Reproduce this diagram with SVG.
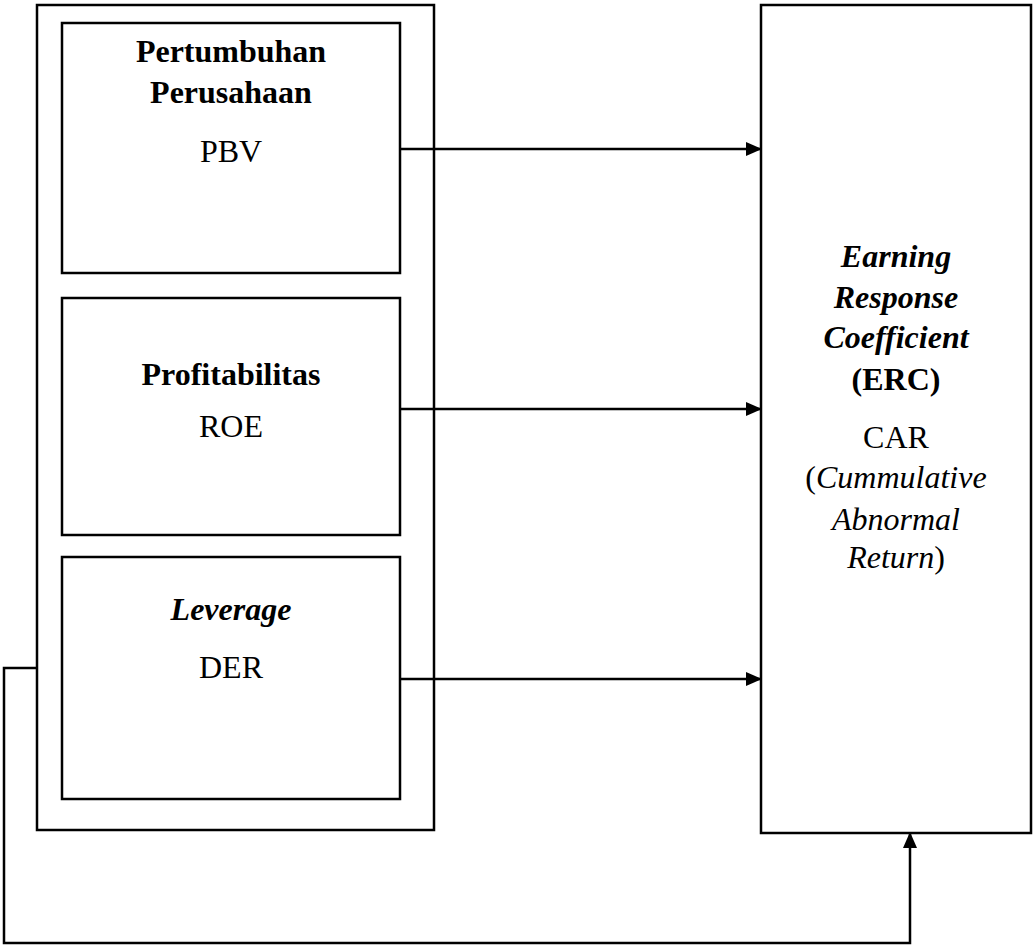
<svg xmlns="http://www.w3.org/2000/svg" width="1036" height="949" viewBox="0 0 1036 949">
<style>
.box{fill:none;stroke:#000;stroke-width:2.5}
.conn{fill:none;stroke:#000;stroke-width:2.5}
text{font-family:"Liberation Serif","Times New Roman",serif;font-size:32px;fill:#000;text-anchor:middle}
.b{font-weight:bold}
.i{font-style:italic}
</style>
<defs>
<marker id="ah" markerWidth="16" markerHeight="16" refX="15" refY="8" orient="auto" markerUnits="userSpaceOnUse">
<path d="M0,1 L16,8 L0,15 Z" fill="#000"/>
</marker>
</defs>
<rect width="1036" height="949" fill="#fff"/>
<g id="container">
<rect class="box" x="37" y="5" width="397" height="825"/>
</g>
<g id="node-pertumbuhan">
<rect class="box" x="62" y="23" width="338" height="250"/>
<text class="b" x="231" y="62">Pertumbuhan</text>
<text class="b" x="231" y="103">Perusahaan</text>
<text x="231" y="162">PBV</text>
</g>
<g id="node-profitabilitas">
<rect class="box" x="62" y="298" width="338" height="237"/>
<text class="b" x="231" y="385">Profitabilitas</text>
<text x="231" y="437">ROE</text>
</g>
<g id="node-leverage">
<rect class="box" x="62" y="557" width="338" height="242"/>
<text class="b i" x="231" y="620">Leverage</text>
<text x="231" y="678">DER</text>
</g>
<g id="node-erc">
<rect class="box" x="761" y="5" width="270" height="828"/>
<text class="b i" x="896" y="267">Earning</text>
<text class="b i" x="896" y="308">Response</text>
<text class="b i" x="896" y="348">Coefficient</text>
<text class="b" x="896" y="390">(ERC)</text>
<text x="896" y="448">CAR</text>
<text x="896" y="488">(<tspan class="i">Cummulative</tspan></text>
<text class="i" x="896" y="530">Abnormal</text>
<text x="896" y="568"><tspan class="i">Return</tspan>)</text>
</g>
<g id="connectors">
<line class="conn" x1="400" y1="149" x2="761" y2="149" marker-end="url(#ah)"/>
<line class="conn" x1="400" y1="409" x2="761" y2="409" marker-end="url(#ah)"/>
<line class="conn" x1="400" y1="679" x2="761" y2="679" marker-end="url(#ah)"/>
<polyline class="conn" points="37,668 4,668 4,943 910,943 910,833" marker-end="url(#ah)"/>
</g>
</svg>
